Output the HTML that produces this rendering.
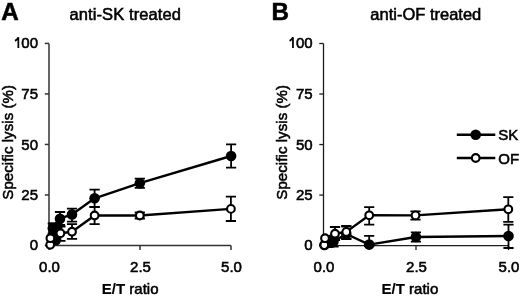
<!DOCTYPE html>
<html><head><meta charset="utf-8"><style>
html,body{margin:0;padding:0;background:#fff;width:520px;height:296px;overflow:hidden}
svg{display:block;will-change:transform}
text{font-family:"Liberation Sans", sans-serif;fill:#000;stroke:#000;stroke-width:0.55px}
</style></head><body>
<svg width="520" height="296" viewBox="0 0 520 296">
<rect width="520" height="296" fill="#fff"/>
<path d="M49.0 43.4V245.5H231" fill="none" stroke="#333" stroke-width="1.5"/>
<path d="M44.8 245.50H49.0" stroke="#333" stroke-width="1.5"/>
<path d="M44.8 194.97H49.0" stroke="#333" stroke-width="1.5"/>
<path d="M44.8 144.45H49.0" stroke="#333" stroke-width="1.5"/>
<path d="M44.8 93.93H49.0" stroke="#333" stroke-width="1.5"/>
<path d="M44.8 43.40H49.0" stroke="#333" stroke-width="1.5"/>
<path d="M49.00 245.5V250.0" stroke="#333" stroke-width="1.5"/>
<path d="M140.00 245.5V250.0" stroke="#333" stroke-width="1.5"/>
<path d="M231.00 245.5V250.0" stroke="#333" stroke-width="1.5"/>
<path d="M323.5 43.5V245.6H508.5" fill="none" stroke="#1c1c1c" stroke-width="1.3"/>
<path d="M319.3 245.60H323.5" stroke="#1c1c1c" stroke-width="1.3"/>
<path d="M319.3 195.07H323.5" stroke="#1c1c1c" stroke-width="1.3"/>
<path d="M319.3 144.55H323.5" stroke="#1c1c1c" stroke-width="1.3"/>
<path d="M319.3 94.03H323.5" stroke="#1c1c1c" stroke-width="1.3"/>
<path d="M319.3 43.50H323.5" stroke="#1c1c1c" stroke-width="1.3"/>
<path d="M323.50 245.6V250.1" stroke="#1c1c1c" stroke-width="1.3"/>
<path d="M416.00 245.6V250.1" stroke="#1c1c1c" stroke-width="1.3"/>
<path d="M508.50 245.6V250.1" stroke="#1c1c1c" stroke-width="1.3"/>
<rect x="48.6" y="222.6" width="8.6" height="13" fill="#000"/><rect x="55" y="222" width="7.5" height="7" fill="#000"/>
<path d="M55.8 240.3 L52.8 228.3 L60 218.7 L72 214.4 L94.6 198.3 L139.8 183.2 L231.1 156" fill="none" stroke="#000" stroke-width="2.4" stroke-linejoin="round"/>
<path d="M52.8 223.5V233.5M47.699999999999996 223.5H57.9M47.699999999999996 233.5H57.9" stroke="#000" stroke-width="1.8" fill="none"/>
<path d="M60 212V225M54.9 212H65.1M54.9 225H65.1" stroke="#000" stroke-width="1.8" fill="none"/>
<path d="M72 208.6V221.7M66.9 208.6H77.1M66.9 221.7H77.1" stroke="#000" stroke-width="1.8" fill="none"/>
<path d="M94.6 189.6V207M89.5 189.6H99.69999999999999M89.5 207H99.69999999999999" stroke="#000" stroke-width="1.8" fill="none"/>
<path d="M139.8 178.6V187.8M134.70000000000002 178.6H144.9M134.70000000000002 187.8H144.9" stroke="#000" stroke-width="1.8" fill="none"/>
<path d="M231.1 144.4V167.7M226.0 144.4H236.2M226.0 167.7H236.2" stroke="#000" stroke-width="1.8" fill="none"/>
<circle cx="55.8" cy="240.3" r="5.3" fill="#000"/>
<circle cx="52.8" cy="228.3" r="5.3" fill="#000"/>
<circle cx="60" cy="218.7" r="5.3" fill="#000"/>
<circle cx="72" cy="214.4" r="5.3" fill="#000"/>
<circle cx="94.6" cy="198.3" r="5.3" fill="#000"/>
<circle cx="139.8" cy="183.2" r="5.3" fill="#000"/>
<circle cx="231.1" cy="156" r="5.3" fill="#000"/>
<path d="M50.2 244.8 L50.4 238.2 L60.4 233.3 L72 231.7 L94.6 215.5 L139.8 215.5 L230.9 208.9" fill="none" stroke="#000" stroke-width="2.4" stroke-linejoin="round"/>
<path d="M60.4 226.5V240.8M55.3 226.5H65.5M55.3 240.8H65.5" stroke="#000" stroke-width="1.8" fill="none"/>
<path d="M72 224.2V238.9M66.9 224.2H77.1M66.9 238.9H77.1" stroke="#000" stroke-width="1.8" fill="none"/>
<path d="M94.6 206.8V224.2M89.5 206.8H99.69999999999999M89.5 224.2H99.69999999999999" stroke="#000" stroke-width="1.8" fill="none"/>
<path d="M139.8 212.5V218.5M134.70000000000002 212.5H144.9M134.70000000000002 218.5H144.9" stroke="#000" stroke-width="1.8" fill="none"/>
<path d="M230.9 196.7V221M225.8 196.7H236.0M225.8 221H236.0" stroke="#000" stroke-width="1.8" fill="none"/>
<circle cx="50.2" cy="244.8" r="3.85" fill="#fff" stroke="#000" stroke-width="2.1"/>
<circle cx="50.4" cy="238.2" r="3.85" fill="#fff" stroke="#000" stroke-width="2.1"/>
<circle cx="60.4" cy="233.3" r="3.85" fill="#fff" stroke="#000" stroke-width="2.1"/>
<circle cx="72" cy="231.7" r="3.85" fill="#fff" stroke="#000" stroke-width="2.1"/>
<circle cx="94.6" cy="215.5" r="3.85" fill="#fff" stroke="#000" stroke-width="2.1"/>
<circle cx="139.8" cy="215.5" r="3.85" fill="#fff" stroke="#000" stroke-width="2.1"/>
<circle cx="230.9" cy="208.9" r="3.85" fill="#fff" stroke="#000" stroke-width="2.1"/>
<path d="M324.5 245 L328.5 242.5 L333.5 241.5 L346.3 234 L369.2 244.6 L415.9 237 L508.5 236" fill="none" stroke="#000" stroke-width="2.4" stroke-linejoin="round"/>
<path d="M328.5 238V247M323.4 238H333.6M323.4 247H333.6" stroke="#000" stroke-width="1.8" fill="none"/>
<path d="M333.5 236.5V246.5M328.4 236.5H338.6M328.4 246.5H338.6" stroke="#000" stroke-width="1.8" fill="none"/>
<path d="M346.3 226.5V239.2M341.2 226.5H351.40000000000003M341.2 239.2H351.40000000000003" stroke="#000" stroke-width="1.8" fill="none"/>
<path d="M369.2 235.8V246M364.09999999999997 235.8H374.3M364.09999999999997 246H374.3" stroke="#000" stroke-width="1.8" fill="none"/>
<path d="M415.9 232.4V241.6M410.79999999999995 232.4H421.0M410.79999999999995 241.6H421.0" stroke="#000" stroke-width="1.8" fill="none"/>
<path d="M508.5 224.6V248M503.4 224.6H513.6M503.4 248H513.6" stroke="#000" stroke-width="1.8" fill="none"/>
<circle cx="324.5" cy="245" r="5.3" fill="#000"/>
<circle cx="328.5" cy="242.5" r="5.3" fill="#000"/>
<circle cx="333.5" cy="241.5" r="5.3" fill="#000"/>
<circle cx="346.3" cy="234" r="5.3" fill="#000"/>
<circle cx="369.2" cy="244.6" r="5.3" fill="#000"/>
<circle cx="415.9" cy="237" r="5.3" fill="#000"/>
<circle cx="508.5" cy="236" r="5.3" fill="#000"/>
<path d="M324.3 245.1 L325 238.2 L335 233.7 L346.3 231.9 L369.2 215.3 L415.5 215.4 L508.3 209.3" fill="none" stroke="#000" stroke-width="2.4" stroke-linejoin="round"/>
<path d="M335 227V240M329.9 227H340.1M329.9 240H340.1" stroke="#000" stroke-width="1.8" fill="none"/>
<path d="M346.3 225.8V238.6M341.2 225.8H351.40000000000003M341.2 238.6H351.40000000000003" stroke="#000" stroke-width="1.8" fill="none"/>
<path d="M369.2 207.2V224.6M364.09999999999997 207.2H374.3M364.09999999999997 224.6H374.3" stroke="#000" stroke-width="1.8" fill="none"/>
<path d="M415.5 211.3V219.6M410.4 211.3H420.6M410.4 219.6H420.6" stroke="#000" stroke-width="1.8" fill="none"/>
<path d="M508.3 197.2V221.8M503.2 197.2H513.4M503.2 221.8H513.4" stroke="#000" stroke-width="1.8" fill="none"/>
<circle cx="324.3" cy="245.1" r="3.85" fill="#fff" stroke="#000" stroke-width="2.1"/>
<circle cx="325" cy="238.2" r="3.85" fill="#fff" stroke="#000" stroke-width="2.1"/>
<circle cx="335" cy="233.7" r="3.85" fill="#fff" stroke="#000" stroke-width="2.1"/>
<circle cx="346.3" cy="231.9" r="3.85" fill="#fff" stroke="#000" stroke-width="2.1"/>
<circle cx="369.2" cy="215.3" r="3.85" fill="#fff" stroke="#000" stroke-width="2.1"/>
<circle cx="415.5" cy="215.4" r="3.85" fill="#fff" stroke="#000" stroke-width="2.1"/>
<circle cx="508.3" cy="209.3" r="3.85" fill="#fff" stroke="#000" stroke-width="2.1"/>
<text x="38" y="250.0" font-size="15" text-anchor="end" font-weight="normal" >0</text>
<text x="38" y="199.9" font-size="15" text-anchor="end" font-weight="normal" >25</text>
<text x="38" y="149.7" font-size="15" text-anchor="end" font-weight="normal" >50</text>
<text x="38" y="99.0" font-size="15" text-anchor="end" font-weight="normal" >75</text>
<text x="38" y="48.4" font-size="15" text-anchor="end" font-weight="normal" >00</text>
<path d="M15.00 40.9Q17.30 39.7 18.35 37.3V48.1" fill="none" stroke="#000" stroke-width="1.75"/>
<text x="49.5" y="272.3" font-size="15" text-anchor="middle" font-weight="normal" >0.0</text>
<text x="140.5" y="272.3" font-size="15" text-anchor="middle" font-weight="normal" >2.5</text>
<text x="231.5" y="272.3" font-size="15" text-anchor="middle" font-weight="normal" >5.0</text>
<text x="312.6" y="250.0" font-size="15" text-anchor="end" font-weight="normal" >0</text>
<text x="312.6" y="199.9" font-size="15" text-anchor="end" font-weight="normal" >25</text>
<text x="312.6" y="149.7" font-size="15" text-anchor="end" font-weight="normal" >50</text>
<text x="312.6" y="99.0" font-size="15" text-anchor="end" font-weight="normal" >75</text>
<text x="312.6" y="48.4" font-size="15" text-anchor="end" font-weight="normal" >00</text>
<path d="M289.60 40.9Q291.90 39.7 292.95 37.3V48.1" fill="none" stroke="#000" stroke-width="1.75"/>
<text x="324.0" y="272.3" font-size="15" text-anchor="middle" font-weight="normal" >0.0</text>
<text x="416.5" y="272.3" font-size="15" text-anchor="middle" font-weight="normal" >2.5</text>
<text x="509.0" y="272.3" font-size="15" text-anchor="middle" font-weight="normal" >5.0</text>
<text x="1.2" y="19.95" font-size="24.2" text-anchor="start" font-weight="bold" >A</text>
<text x="271.6" y="19.95" font-size="24.2" text-anchor="start" font-weight="bold" >B</text>
<text x="69.5" y="19.9" font-size="16.5" text-anchor="start" font-weight="normal" letter-spacing="0.1">anti-SK treated</text>
<text x="370.3" y="19.9" font-size="16.5" text-anchor="start" font-weight="normal" >anti-OF treated</text>
<text x="101.8" y="294" font-size="15"><tspan font-weight="bold" stroke-width="0.15">E/T</tspan> ratio</text>
<text x="381.6" y="294" font-size="15"><tspan font-weight="bold" stroke-width="0.15">E/T</tspan> ratio</text>
<text transform="translate(13,199.7) rotate(-90)" font-size="15" letter-spacing="0.08">Specific lysis (%)</text>
<text transform="translate(287.3,199.7) rotate(-90)" font-size="15" letter-spacing="0.08">Specific lysis (%)</text>
<path d="M456.8 134.8H495.3M456.8 158H495.3" stroke="#000" stroke-width="2.4"/>
<circle cx="475.7" cy="134.8" r="5.3" fill="#000"/>
<circle cx="475.7" cy="158" r="3.85" fill="#fff" stroke="#000" stroke-width="2.1"/>
<text x="498.3" y="140.2" font-size="15" text-anchor="start" font-weight="normal" >SK</text>
<text x="498.3" y="163.7" font-size="15" text-anchor="start" font-weight="normal" >OF</text>
</svg>
</body></html>
